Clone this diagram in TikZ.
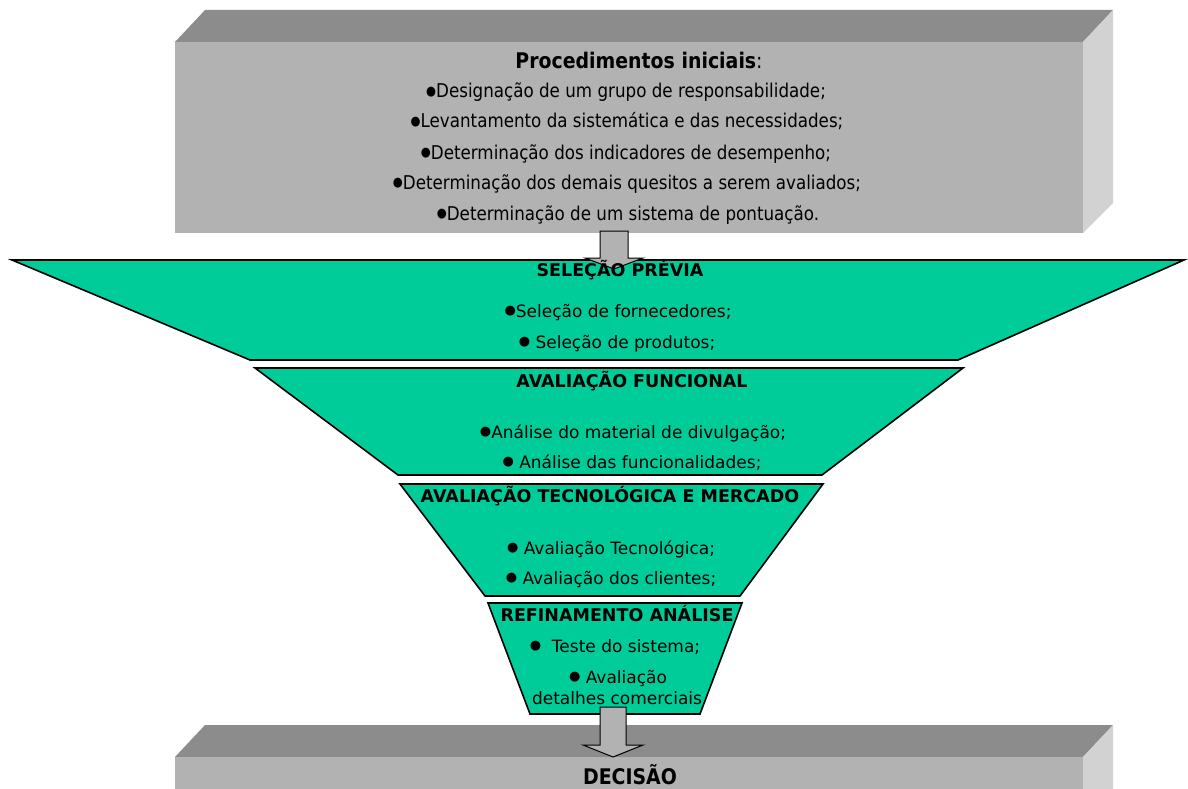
\documentclass[tikz,border=0pt]{standalone}
\usepackage{fontspec}
\setmainfont{DejaVu Sans}
\newfontfamily\narrowfont[FakeStretch=0.88]{DejaVu Sans}
\usetikzlibrary{positioning,calc}
\definecolor{funil}{RGB}{0,204,153}
\definecolor{caixafrente}{RGB}{178,178,178}
\definecolor{caixatopo}{RGB}{140,140,140}
\definecolor{caixalado}{RGB}{210,210,210}
\tikzstyle{etapa}=[draw=black,line width=1.6pt,fill=funil,line join=miter]
\tikzstyle{seta}=[draw=black,line width=1pt,fill=caixafrente,line join=miter]
\tikzstyle{titulo}=[anchor=base,inner sep=0pt,font=\fontsize{17.5}{17.5}\selectfont\bfseries]
\tikzstyle{item}=[anchor=base,inner sep=0pt,font=\fontsize{17}{17}\selectfont]
\tikzstyle{caixa}=[anchor=base,inner sep=0pt,font=\narrowfont\fontsize{19}{19}\selectfont]
\newcommand{\marca}{{\fontsize{13}{13}\selectfont\raisebox{0.22em}{●}}}

\begin{document}
\begin{tikzpicture}[x=1pt,y=-1pt]
	\useasboundingbox (0,0) rectangle (1188,789);
	% caixa dos procedimentos iniciais
	\fill[caixatopo] (175,42) -- (205,10) -- (1113,10) -- (1083,42) -- cycle;
	\fill[caixalado] (1083,42) -- (1113,10) -- (1113,203) -- (1083,233) -- cycle;
	\fill[caixafrente] (175,42) rectangle (1083,233);
	\node[caixa,font=\narrowfont\fontsize{21.5}{21.5}\selectfont\bfseries] (proc) at (639,69) {Procedimentos iniciais{\mdseries:}};
	\node[caixa] (p1) at (626,98) {\marca Designação de um grupo de responsabilidade;};
	\node[caixa] (p2) at (627,128) {\marca Levantamento da sistemática e das necessidades;};
	\node[caixa] (p3) at (626,159) {\marca Determinação dos indicadores de desempenho;};
	\node[caixa] (p4) at (627,189) {\marca Determinação dos demais quesitos a serem avaliados;};
	\node[caixa] (p5) at (628,220) {\marca Determinação de um sistema de pontuação.};

	% funil
	\draw[etapa] (12,260) -- (1184,260) -- (958,360) -- (250,360) -- cycle;
	\draw[etapa] (255,368) -- (963,368) -- (822,475) -- (398,475) -- cycle;
	\draw[etapa] (400,484) -- (823,484) -- (740,596) -- (485,596) -- cycle;
	\draw[etapa] (488,603) -- (742,603) -- (700,714) -- (530,714) -- cycle;

	% seta de entrada no funil
	\coordinate (s1a) at (614,231);
	\coordinate (s1b) at (614,269);
	\draw[seta] ($(s1a)+(-14,0)$) -- ($(s1a)+(14,0)$) -- ($(s1b)+(14,-11)$) -- ($(s1b)+(29,-11)$)
		-- (s1b) -- ($(s1b)+(-29,-11)$) -- ($(s1b)+(-14,-11)$) -- cycle;

	\node[titulo] (sel) at (620,276) {SELEÇÃO PRÉVIA};
	\node[item] (sel1) at (618,317) {\marca Seleção de fornecedores;};
	\node[item] (sel2) at (617,348) {\marca\ Seleção de produtos;};

	\node[titulo] (func) at (632,387) {AVALIAÇÃO FUNCIONAL};
	\node[item] (func1) at (633,438) {\marca Análise do material de divulgação;};
	\node[item] (func2) at (632,468) {\marca\ Análise das funcionalidades;};

	\node[titulo] (tec) at (610,502) {AVALIAÇÃO TECNOLÓGICA E MERCADO};
	\node[item] (tec1) at (611,554) {\marca\ Avaliação Tecnológica;};
	\node[item] (tec2) at (611,584) {\marca\ Avaliação dos clientes;};

	\node[titulo] (ref) at (617,621) {REFINAMENTO ANÁLISE};
	\node[item] (ref1) at (615,652) {\marca\ \ Teste do sistema;};
	\node[item] (ref2) at (618,683) {\marca\ Avaliação};
	\node[item] (ref3) at (617,704) {detalhes comerciais};

	% caixa da decisao
	\fill[caixatopo] (175,757) -- (205,725) -- (1113,725) -- (1083,757) -- cycle;
	\fill[caixalado] (1083,757) -- (1113,725) -- (1113,789) -- (1083,789) -- cycle;
	\fill[caixafrente] (175,757) rectangle (1083,789);

	\coordinate (s2a) at (613,707);
	\coordinate (s2b) at (613,757);
	\draw[seta] ($(s2a)+(-13,0)$) -- ($(s2a)+(13,0)$) -- ($(s2b)+(13,-12)$) -- ($(s2b)+(30,-12)$)
		-- (s2b) -- ($(s2b)+(-30,-12)$) -- ($(s2b)+(-13,-12)$) -- cycle;

	\node[caixa,font=\narrowfont\fontsize{21.5}{21.5}\selectfont\bfseries] (dec) at (630,784) {DECISÃO};
\end{tikzpicture}
\end{document}
